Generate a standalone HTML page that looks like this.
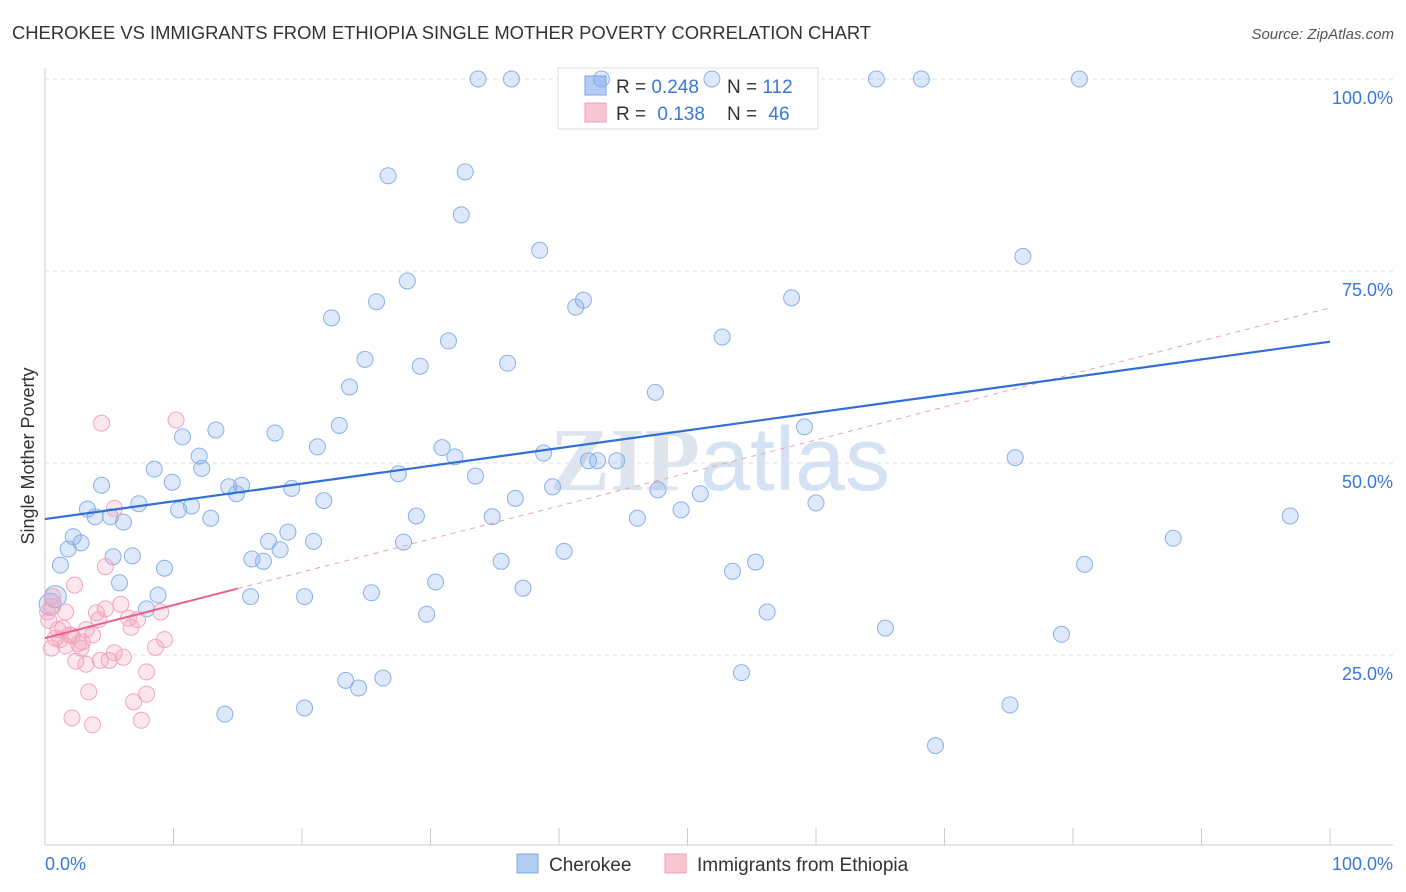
<!DOCTYPE html>
<html><head><meta charset="utf-8"><style>
body{margin:0;background:#fff;font-family:"Liberation Sans",sans-serif;}
#wrap{position:relative;width:1406px;height:892px;overflow:hidden;}
svg{position:absolute;left:0;top:0;}
</style></head><body>
<div id="wrap">
<svg id="chart" width="1406" height="892">
<text x="12" y="39" font-size="18.4" fill="#333">CHEROKEE VS IMMIGRANTS FROM ETHIOPIA SINGLE MOTHER POVERTY CORRELATION CHART</text>
<text x="1394" y="39" font-size="15" fill="#555" font-style="italic" text-anchor="end">Source: ZipAtlas.com</text>
<text x="720" y="490" font-size="90" fill="#dfe5ee" text-anchor="middle" font-family="Liberation Serif" font-weight="bold">ZIP<tspan font-family="Liberation Sans" font-weight="normal" fill="#d4e2f4">atlas</tspan></text>
<text transform="translate(34,456) rotate(-90)" font-size="18" fill="#333" text-anchor="middle">Single Mother Poverty</text>
<g id="grid"></g>
<g>
<rect x="558" y="68" width="260" height="61" fill="#fff" stroke="#ddd"/>
<rect x="585" y="76" width="21" height="19" fill="#b3cdf3" stroke="#7aa6e6"/>
<rect x="585" y="103" width="21" height="19" fill="#f9c6d4" stroke="#eba0b6"/>
<text x="616" y="93" font-size="19" fill="#333">R = <tspan fill="#3a78d8">0.248</tspan></text>
<text x="727" y="93" font-size="19" fill="#333">N = <tspan fill="#3a78d8">112</tspan></text>
<text x="616" y="120" font-size="19" fill="#333">R = <tspan fill="#3a78d8" dx="6">0.138</tspan></text>
<text x="727" y="120" font-size="19" fill="#333">N = <tspan fill="#3a78d8" dx="6">46</tspan></text>
</g>
<g id="pts"></g><g id="lines"></g>
<g>
<rect x="517" y="854" width="21" height="19" fill="#b3cdf3" stroke="#7aa6e6"/>
<text x="549" y="871" font-size="19" fill="#333">Cherokee</text>
<rect x="665" y="854" width="21" height="19" fill="#f9c6d4" stroke="#eba0b6"/>
<text x="697" y="871" font-size="19" fill="#333">Immigrants from Ethiopia</text>
</g>
</svg>
</div>
<script>
const blueX=[33.7,36.3,43.3,51.9,64.7,68.2,80.5,26.7,32.7,32.4,38.5,76.1,28.2,25.8,41.3,41.9,58.1,22.3,31.4,52.7,24.9,29.2,36.0,23.7,47.5,10.7,13.3,17.9,22.9,21.2,30.9,31.9,38.8,59.1,8.5,12.0,12.2,9.9,27.5,33.5,42.3,43.0,44.5,75.5,4.4,14.3,15.3,14.9,19.2,21.7,39.5,36.6,47.7,51.0,7.3,3.3,10.4,11.4,5.1,6.1,3.9,12.9,28.9,34.8,46.1,49.5,60.0,96.9,2.2,2.8,1.8,17.4,18.9,20.9,18.3,27.9,1.2,5.3,6.8,16.1,17.0,35.5,40.4,9.3,5.8,30.4,37.2,53.5,55.3,80.9,87.8,0.8,0.4,8.8,7.9,16.0,20.2,25.4,29.7,56.2,65.4,79.1,23.4,26.3,24.4,54.2,14.0,20.2,75.1,69.3];
const blueY=[100,100,100,100,100,100,100,87.4,87.9,82.3,77.7,76.9,73.7,71.0,70.3,71.2,71.5,68.9,65.9,66.4,63.5,62.6,63.0,59.9,59.2,53.4,54.3,53.9,54.9,52.1,52.0,50.8,51.3,54.7,49.2,50.9,49.3,47.5,48.6,48.3,50.3,50.3,50.3,50.7,47.1,46.9,47.1,46.0,46.7,45.1,46.9,45.4,46.5,46.0,44.7,44.0,43.9,44.4,43.0,42.3,43.0,42.8,43.1,43.0,42.8,43.9,44.8,43.1,40.4,39.6,38.8,39.8,41.0,39.8,38.7,39.7,36.7,37.8,37.9,37.5,37.2,37.2,38.5,36.3,34.4,34.5,33.7,35.9,37.1,36.8,40.2,32.6,31.6,32.8,31.0,32.6,32.6,33.1,30.3,30.6,28.5,27.7,21.7,22.0,20.7,22.7,17.3,18.1,18.5,13.2];
const pinkX=[4.4,10.2,5.4,2.3,4.7,0.5,1.6,4.0,4.7,5.9,4.2,6.5,7.2,6.7,9.0,3.2,1.4,0.8,2.1,3.7,2.9,1.6,0.5,2.8,5.4,6.1,4.3,2.4,3.2,9.3,8.6,7.9,3.4,7.9,6.9,2.1,3.7,7.5,1.0,0.6,0.2,1.9,5.0,0.3,1.2,2.6];
const pinkY=[55.2,55.6,44.1,34.1,36.5,31.3,30.6,30.5,31.0,31.6,29.6,29.8,29.6,28.6,30.6,28.3,28.5,27.2,27.5,27.6,26.7,26.2,25.9,25.9,25.3,24.7,24.3,24.2,23.8,27.0,26.0,22.8,20.2,19.9,18.9,16.8,15.9,16.5,28.3,32.6,30.6,27.6,24.3,29.5,27.0,26.5];
const blueTrend=[42.7,65.8];
const pinkTrend=[27.2,70.2];
const pinkSolidEnd=15;
const yTicks=[25,50,75,100];
const yTickLabels=["25.0%","50.0%","75.0%","100.0%"];
const NS="http://www.w3.org/2000/svg";
const X=v=>45+v*12.85, Y=v=>847-v*7.68;
function mk(tag,attrs,parent){const e=document.createElementNS(NS,tag);for(const k in attrs)e.setAttribute(k,attrs[k]);parent.appendChild(e);return e;}
const grid=document.getElementById('grid'),pts=document.getElementById('pts'),lines=document.getElementById('lines');
yTicks.forEach((t,i)=>{
 const l=mk('line',{x1:45,x2:1393,y1:Y(t),y2:Y(t),stroke:'#ddd','stroke-dasharray':'4,4'},grid);
 
 
 const tx=mk('text',{x:1393,y:Y(t)+25,'font-size':18,fill:'#3a78d8','text-anchor':'end'},grid);
 tx.textContent=yTickLabels[i];
 
 
});
const ax=mk('line',{x1:45,x2:45,y1:68,y2:845,stroke:'#ccc'},grid);


const bx=mk('line',{x1:45,x2:1393,y1:845,y2:845,stroke:'#ccc'},grid);


for(let i=0;i<=10;i++){
 const t=mk('line',{x1:X(i*10),x2:X(i*10),y1:828,y2:845,stroke:'#ccc'},grid);
 
 
}
[["0.0%",45,'start'],["100.0%",1393,'end']].forEach(a=>{
 const t=mk('text',{x:a[1],y:870,'font-size':18,fill:'#3a78d8','text-anchor':a[2]},grid);t.textContent=a[0];
 
 
});
blueX.forEach((v,i)=>{
 const c=mk('circle',{cx:X(v),cy:Y(blueY[i]),r:(v<1.5&&blueY[i]>30&&blueY[i]<34)?11:8,fill:'rgba(120,165,235,0.25)',stroke:'#8ab0e8','stroke-width':1},pts);
 
 
});
pinkX.forEach((v,i)=>{
 const c=mk('circle',{cx:X(v),cy:Y(pinkY[i]),r:8,fill:'rgba(245,160,185,0.25)',stroke:'#f0a6bd','stroke-width':1},pts);
 
 
});
const pv=x=>pinkTrend[0]+(pinkTrend[1]-pinkTrend[0])*x/100;
const pd=mk('line',{x1:X(pinkSolidEnd),y1:Y(pv(pinkSolidEnd)),x2:X(100),y2:Y(pinkTrend[1]),stroke:'#eaa0b8','stroke-width':1,'stroke-dasharray':'5,5'},lines);


const ps=mk('line',{x1:X(0),y1:Y(pinkTrend[0]),x2:X(pinkSolidEnd),y2:Y(pv(pinkSolidEnd)),stroke:'#e8628c','stroke-width':2},lines);


const bl=mk('line',{x1:X(0),y1:Y(blueTrend[0]),x2:X(100),y2:Y(blueTrend[1]),stroke:'#2f6fd6','stroke-width':2.2},lines);


</script>
</body></html>
